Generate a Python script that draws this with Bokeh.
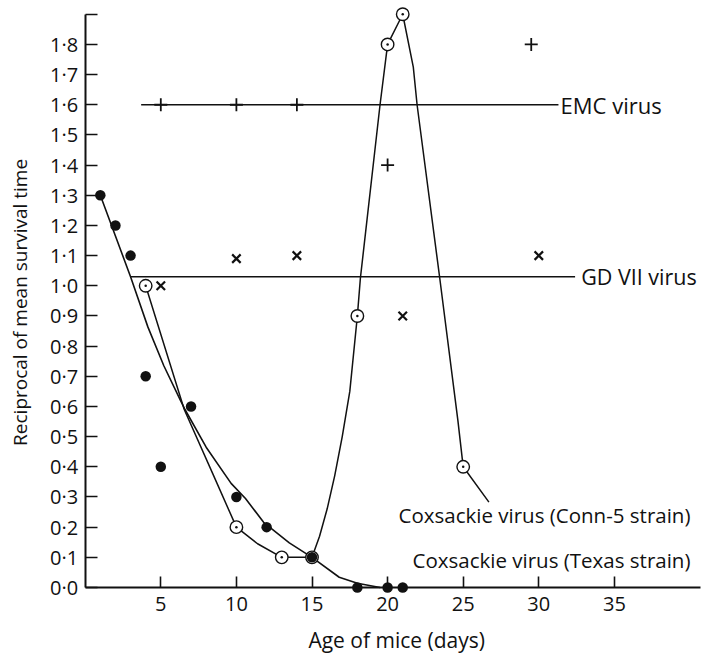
import math
from bokeh.plotting import figure
from bokeh.models import Range1d, LinearAxis, FixedTicker, CustomJSTickFormatter, Label
from bokeh.embed import file_html
from bokeh.resources import INLINE

# ---------------- data ----------------
# Coxsackie virus (Texas strain) - filled dots
texas_age = [1, 2, 3, 4, 5, 7, 10, 12, 15, 18, 20, 21]
texas_val = [1.3, 1.2, 1.1, 0.7, 0.4, 0.6, 0.3, 0.2, 0.1, 0.0, 0.0, 0.0]
# fitted curve for Texas strain
texas_curve_age = [1, 2, 3, 4.15, 5.2, 6.3, 6.6, 8, 9.65, 10.6, 11.8, 13.5, 15, 16.8, 18, 19.5]
texas_curve_val = [1.3, 1.165, 1.03, 0.863, 0.735, 0.62, 0.59, 0.465, 0.345, 0.295, 0.216, 0.148, 0.1, 0.034, 0.014, 0.0]

# Coxsackie virus (Conn-5 strain) - open circles with dot
conn_age = [4, 10, 13, 15, 18, 20, 21, 25]
conn_val = [1.0, 0.2, 0.1, 0.1, 0.9, 1.8, 1.9, 0.4]
# drawn line for Conn-5 strain (traced)
conn_line_age = [4, 6.55, 8.5, 10, 11.4, 13, 15, 15.5, 16, 16.5, 17, 17.5, 18, 18.2, 19.5, 20, 21, 21.7, 21.95, 23.45, 24.65, 25, 26.7]
conn_line_val = [1.0, 0.59, 0.37, 0.2, 0.145, 0.1, 0.1, 0.17, 0.26, 0.37, 0.5, 0.65, 0.9, 1.025, 1.6, 1.8, 1.9, 1.725, 1.6, 1.025, 0.553, 0.4, 0.283]

# EMC virus (+)
emc_age = [5, 10, 14, 20, 29.5]
emc_val = [1.6, 1.6, 1.6, 1.4, 1.8]
emc_line_age = [3.7, 31.3]
emc_mean = [1.6, 1.6]

# GD VII virus (x)
gd_age = [5, 10, 14, 21, 30]
gd_val = [1.0, 1.09, 1.1, 0.9, 1.1]
gd_line_age = [3.0, 32.4]
gd_mean = [1.03, 1.03]

x_ticks = [5, 10, 15, 20, 25, 30, 35]
y_ticks = [0.0, 0.1, 0.2, 0.3, 0.4, 0.5, 0.6, 0.7, 0.8, 0.9, 1.0, 1.1, 1.2, 1.3, 1.4, 1.5, 1.6, 1.7, 1.8, 1.9]

# ---------------- styling ----------------
INK = "#111111"
FONT = "Open Sans"

p = figure(width=703, height=655, output_backend="svg", toolbar_location=None,
           x_axis_type=None, y_axis_type=None,
           x_range=Range1d(-5.602, 40.893), y_range=Range1d(-0.2254, 1.9456),
           min_border_left=0, min_border_right=0, min_border_top=0, min_border_bottom=0)
p.outline_line_color = None
p.background_fill_color = "white"
p.border_fill_color = "white"

def style_axis(ax):
    ax.axis_line_color = INK
    ax.axis_line_width = 2
    ax.major_tick_line_color = INK
    ax.major_tick_line_width = 1.6
    ax.major_tick_out = 0
    ax.minor_tick_line_color = None
    ax.major_label_text_font = FONT
    ax.major_label_text_font_size = "20px"
    ax.major_label_text_color = INK

xaxis = LinearAxis(fixed_location=0, bounds=(0, 40.7), ticker=FixedTicker(ticks=x_ticks))
style_axis(xaxis)
xaxis.major_tick_in = 11
xaxis.major_label_standoff = 10
p.add_layout(xaxis, "below")

yaxis = LinearAxis(fixed_location=0, bounds=(0, 1.9), ticker=FixedTicker(ticks=y_ticks),
                   formatter=CustomJSTickFormatter(code="""
                       if (tick > 1.85) { return ''; }
                       return tick.toFixed(1).replace('.', '\\u00b7');
                   """))
style_axis(yaxis)
yaxis.major_tick_in = 12
yaxis.major_label_standoff = 7
p.add_layout(yaxis, "left")

# mean lines
p.line(emc_line_age, emc_mean, line_color=INK, line_width=1.4)
p.line(gd_line_age, gd_mean, line_color=INK, line_width=1.4)

# curves
p.line(texas_curve_age, texas_curve_val, line_color=INK, line_width=1.6)
p.line(conn_line_age, conn_line_val, line_color=INK, line_width=1.5)

# markers
p.scatter(emc_age, emc_val, marker="cross", size=13, line_color=INK, line_width=1.8)
p.scatter(gd_age, gd_val, marker="x", size=12, line_color=INK, line_width=2.2)
p.scatter(conn_age, conn_val, marker="circle", size=12.5, fill_color="white", line_color=INK, line_width=1.4)
p.scatter(conn_age, conn_val, marker="circle", size=2.5, fill_color=INK, line_color=None)
p.scatter(texas_age, texas_val, marker="circle", size=10.5, fill_color=INK, line_color=None)

# text labels
def add_label(x, y, text, align="left", angle=0.0, size="19px"):
    p.add_layout(Label(x=x, y=y, text=text, text_font=FONT, text_font_size=size,
                       text_color=INK, text_align=align, text_baseline="middle", angle=angle))

add_label(31.44, 1.6, "EMC virus", size="22px")
add_label(32.8, 1.03, "GD VII virus", size="21.5px")
add_label(40.03, 0.24, "Coxsackie virus (Conn-5 strain)", align="right", size="20.5px")
add_label(40.03, 0.09, "Coxsackie virus (Texas strain)", align="right", size="20.5px")
add_label(20.6, -0.174, "Age of mice (days)", align="center", size="21px")
add_label(-4.28, 0.945, "Reciprocal of mean survival time", align="center", angle=math.pi / 2, size="19px")

open("out.html", "w").write(file_html(p, INLINE))
